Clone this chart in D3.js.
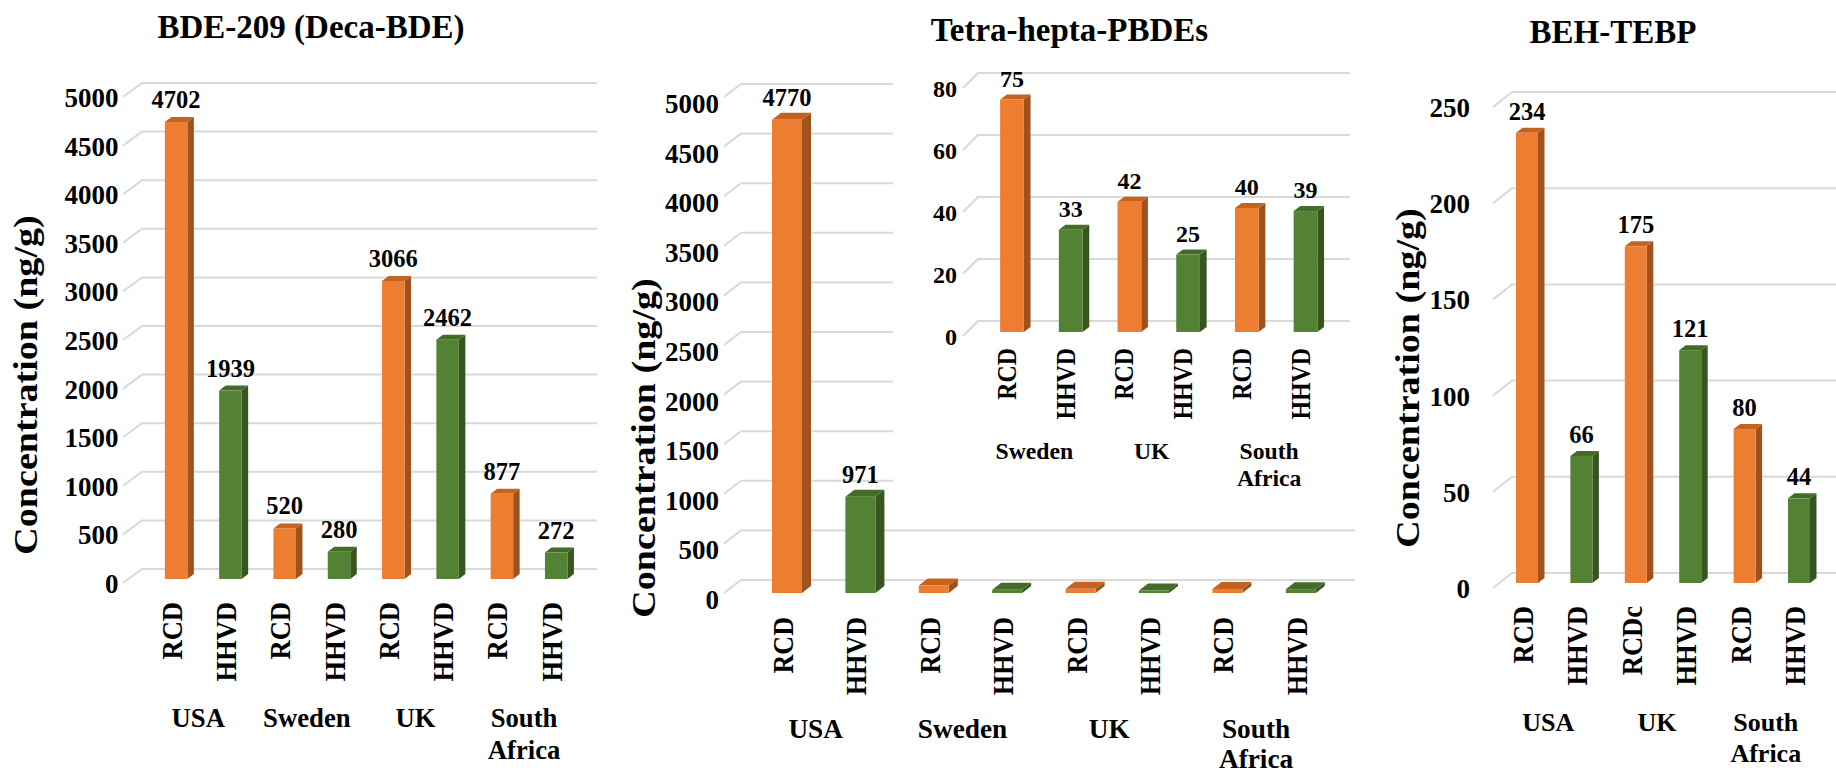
<!DOCTYPE html>
<html>
<head>
<meta charset="utf-8">
<script src="https://cdnjs.cloudflare.com/ajax/libs/d3/7.8.5/d3.min.js"></script>
<style>
  body { margin: 0; background: #fff; }
  svg { display: block; }
  text { font-family: "Liberation Serif", "Times New Roman", serif; font-weight: bold; fill: #000; }
</style>
</head>
<body>
<div id="chart"></div>
<script>
// --- 1. DATA ---
var samples = ["RCD", "HHVD"];

// BDE-209 (Deca-BDE)
var decaCountries = ["USA", "Sweden", "UK", "South Africa"];
var decaRCD = [4702, 520, 3066, 877];
var decaHHVD = [1939, 280, 2462, 272];
var decaTicks = [0, 500, 1000, 1500, 2000, 2500, 3000, 3500, 4000, 4500, 5000];

// Tetra-hepta-PBDEs (main chart + inset without USA)
var tetraCountries = ["USA", "Sweden", "UK", "South Africa"];
var tetraRCD = [4770, 75, 42, 40];
var tetraHHVD = [971, 33, 25, 39];
var tetraTicks = [0, 500, 1000, 1500, 2000, 2500, 3000, 3500, 4000, 4500, 5000];
var tetraLabelled = ["USA"];
var insetCountries = ["Sweden", "UK", "South Africa"];
var insetTicks = [0, 20, 40, 60, 80];

// BEH-TEBP
var tebpCountries = ["USA", "UK", "South Africa"];
var tebpRCD = [234, 175, 80];
var tebpHHVD = [66, 121, 44];
var tebpSampleLabels = [["RCD", "HHVD"], ["RCDc", "HHVD"], ["RCD", "HHVD"]];
var tebpTicks = [0, 50, 100, 150, 200, 250];

// --- 2. SETUP ---
var width = 1836, height = 775;
var svg = d3.select("#chart").append("svg")
  .attr("width", width)
  .attr("height", height);

var colors = {
  RCD: { front: "#ED7D31", side: "#A0521D", top: "#C4621F" },
  HHVD: { front: "#548235", side: "#37561F", top: "#436C29" }
};

function rows(countries, rcd, hhvd, labels) {
  var out = [];
  countries.forEach(function(c, i) {
    out.push({ country: c, sample: "RCD", value: rcd[i], label: labels ? labels[i][0] : "RCD" });
    out.push({ country: c, sample: "HHVD", value: hhvd[i], label: labels ? labels[i][1] : "HHVD" });
  });
  return out;
}

// --- 3. PANEL DRAWER ---
function drawPanel(g, cfg) {
  var y = d3.scaleLinear().domain([0, cfg.max]).range([cfg.base, cfg.top]);
  var yf = d3.scaleLinear().domain([0, cfg.max]).range([cfg.frontBase, cfg.frontBase - (cfg.base - cfg.top)]);
  var xg = d3.scaleBand().domain(cfg.countries)
    .range([cfg.x0, cfg.x0 + cfg.step * 2 * cfg.countries.length]);
  var xs = d3.scaleBand().domain(samples).range([0, xg.bandwidth()]);
  var cx = function(d) { return xg(d.country) + xs(d.sample) + xs.bandwidth() / 2; };

  // gridlines with the little side-wall diagonal
  g.selectAll(".grid").data(cfg.ticks).enter().append("path")
    .attr("fill", "none")
    .attr("stroke", "#d9d9d9")
    .attr("stroke-width", 2)
    .attr("d", function(t) {
      return "M" + (cfg.gx0 - cfg.diag[0]) + "," + (y(t) + cfg.diag[1]) +
        "L" + cfg.gx0 + "," + y(t) + "L" + cfg.gx1 + "," + y(t);
    });

  // tick labels
  g.selectAll(".tick").data(cfg.ticks).enter().append("text")
    .attr("x", cfg.tickX)
    .attr("y", function(t) { return y(t) + cfg.tickDy; })
    .attr("text-anchor", "end")
    .style("font-size", cfg.tickFont + "px")
    .text(function(t) { return t; });

  // 3D bars
  var bw = cfg.barW, dx = cfg.depth[0], dy = cfg.depth[1];
  var bars = g.selectAll(".bar").data(cfg.data).enter().append("g");
  bars.append("path")
    .attr("fill", function(d) { return colors[d.sample].side; })
    .attr("d", function(d) {
      var x1 = cx(d) + bw / 2, t = yf(d.value), b = yf(0);
      return "M" + x1 + "," + t + "L" + (x1 + dx) + "," + (t + dy) +
        "L" + (x1 + dx) + "," + (b + dy) + "L" + x1 + "," + b + "Z";
    });
  bars.append("path")
    .attr("fill", function(d) { return colors[d.sample].top; })
    .attr("d", function(d) {
      var x0 = cx(d) - bw / 2, t = yf(d.value);
      return "M" + x0 + "," + t + "L" + (x0 + dx) + "," + (t + dy) +
        "L" + (x0 + bw + dx) + "," + (t + dy) + "L" + (x0 + bw) + "," + t + "Z";
    });
  bars.append("rect")
    .attr("fill", function(d) { return colors[d.sample].front; })
    .attr("x", function(d) { return cx(d) - bw / 2; })
    .attr("y", function(d) { return yf(d.value); })
    .attr("width", bw)
    .attr("height", function(d) { return yf(0) - yf(d.value); });

  // value labels
  g.selectAll(".val").data(cfg.data.filter(cfg.labelFilter || function() { return true; }))
    .enter().append("text")
    .attr("x", function(d) { return cx(d); })
    .attr("y", function(d) { return yf(d.value) - cfg.valGap; })
    .attr("text-anchor", "middle")
    .style("font-size", cfg.valFont + "px")
    .text(function(d) { return d.value; });

  // rotated sample labels (slightly squeezed along their length, like the original)
  g.selectAll(".xl").data(cfg.data).enter().append("text")
    .attr("transform", function(d) {
      return "translate(" + (cx(d) + cfg.xlDx) + "," + cfg.xlTop + ") rotate(-90) scale(" + cfg.xlSx + ",1)";
    })
    .attr("text-anchor", "end")
    .style("font-size", cfg.xlFont + "px")
    .text(function(d) { return d.label; });

  // country labels
  var gl = g.selectAll(".grp").data(cfg.countries).enter().append("text")
    .attr("text-anchor", "middle")
    .style("font-size", cfg.grpFont + "px");
  gl.each(function(c) {
    var t = d3.select(this);
    var gx = xg(c) + xg.bandwidth() / 2 + cfg.grpDx;
    c.split(" ").forEach(function(w, i) {
      t.append("tspan").attr("x", gx).attr("y", cfg.grpY + i * cfg.grpLine).text(w);
    });
  });

  if (cfg.ytitle) {
    g.append("text")
      .attr("transform", "translate(" + cfg.ytitle[0] + "," + cfg.ytitle[1] + ") rotate(-90) scale(1.12,1)")
      .attr("text-anchor", "middle")
      .style("font-size", cfg.ytitle[2] + "px")
      .text("Concentration (ng/g)");
  }
  if (cfg.title) {
    g.append("text")
      .attr("x", cfg.title[1]).attr("y", cfg.title[2])
      .attr("text-anchor", "middle")
      .style("font-size", cfg.title[3] + "px")
      .text(cfg.title[0]);
  }
}

// --- 4. PANEL 1: BDE-209 ---
drawPanel(svg.append("g"), {
  data: rows(decaCountries, decaRCD, decaHHVD), countries: decaCountries, ticks: decaTicks, max: 5000,
  base: 569, top: 83, frontBase: 579,
  gx0: 142, gx1: 597, diag: [19, 14],
  tickX: 118.6, tickDy: 24, tickFont: 27,
  x0: 148.95, step: 54.3, barW: 22.5, depth: [6.5, -5],
  valFont: 24.5, valGap: 14,
  xlTop: 602, xlDx: 5.5, xlFont: 29.5, xlSx: 0.9,
  grpY: 727, grpLine: 32, grpFont: 26.7, grpDx: -5,
  ytitle: [37, 385, 34],
  title: ["BDE-209 (Deca-BDE)", 311, 38, 33]
});

// --- 5. PANEL 2: Tetra-hepta-PBDEs ---
drawPanel(svg.append("g"), {
  data: rows(tetraCountries, tetraRCD, tetraHHVD), countries: tetraCountries, ticks: tetraTicks, max: 5000,
  base: 580, top: 84, frontBase: 593,
  gx0: 741, gx1: 1355, diag: [17, 13],
  tickX: 719, tickDy: 29, tickFont: 27,
  x0: 750.3, step: 73.4, barW: 30, depth: [9, -7],
  valFont: 24.5, valGap: 14,
  labelFilter: function(d) { return tetraLabelled.indexOf(d.country) >= 0; },
  xlTop: 617, xlDx: 6, xlFont: 30, xlSx: 0.87,
  grpY: 738, grpLine: 30, grpFont: 27.3, grpDx: -8,
  ytitle: [655, 448, 34],
  title: ["Tetra-hepta-PBDEs", 1069.5, 41, 33]
});

// inset (zoom on the small values)
var inset = svg.append("g");
inset.append("rect").attr("x", 893).attr("y", 60).attr("width", 472).attr("height", 445).attr("fill", "#fff");
drawPanel(inset, {
  data: rows(tetraCountries, tetraRCD, tetraHHVD).filter(function(d) { return insetCountries.indexOf(d.country) >= 0; }),
  countries: insetCountries, ticks: insetTicks, max: 80,
  base: 321, top: 73, frontBase: 332,
  gx0: 978, gx1: 1350, diag: [15, 15],
  tickX: 957, tickDy: 23.7, tickFont: 24,
  x0: 982.65, step: 58.7, barW: 23.7, depth: [6.7, -5],
  valFont: 24, valGap: 13,
  xlTop: 348, xlDx: 4, xlFont: 26.5, xlSx: 0.9,
  grpY: 459, grpLine: 27, grpFont: 23.7, grpDx: -7
});

// --- 6. PANEL 3: BEH-TEBP ---
drawPanel(svg.append("g"), {
  data: rows(tebpCountries, tebpRCD, tebpHHVD, tebpSampleLabels), countries: tebpCountries, ticks: tebpTicks, max: 250,
  base: 573, top: 92, frontBase: 583,
  gx0: 1512, gx1: 1836, diag: [19, 15],
  tickX: 1470, tickDy: 25, tickFont: 27,
  x0: 1499.8, step: 54.4, barW: 22, depth: [6.5, -5],
  valFont: 24.5, valGap: 13,
  xlTop: 606, xlDx: 6, xlFont: 29.5, xlSx: 0.9,
  grpY: 731, grpLine: 31, grpFont: 26, grpDx: -6,
  ytitle: [1419, 378, 34],
  title: ["BEH-TEBP", 1613, 43, 33]
});
</script>
</body>
</html>
